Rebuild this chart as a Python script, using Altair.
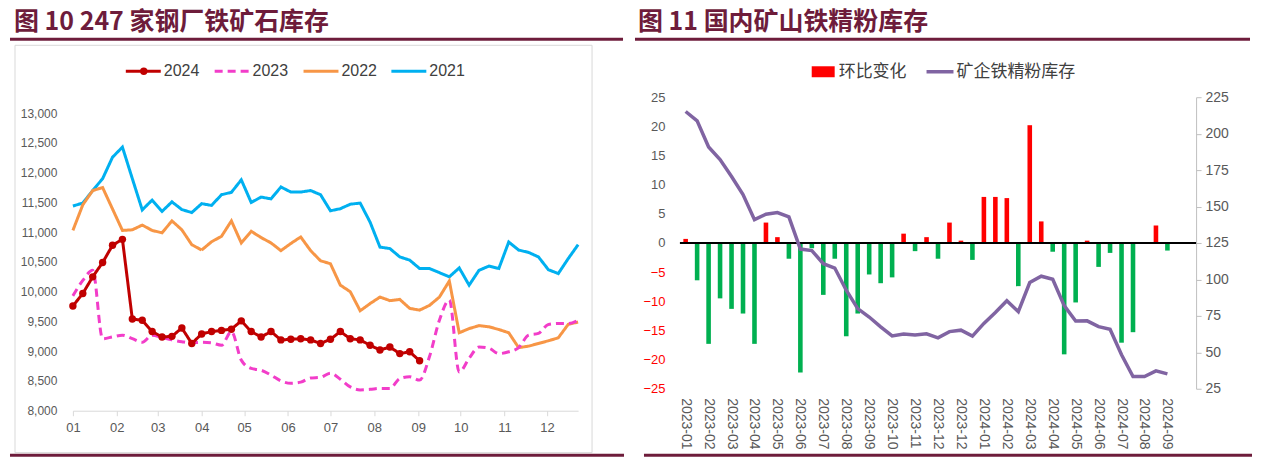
import altair as alt
import pandas as pd

# ---------------- Figure 10: iron ore stocks at 247 steel mills (weekly) ----------------
week_dates = pd.date_range("2024-01-05", periods=52, freq="7D")
series_order = ["2021", "2022", "2023", "2024"]          # drawing order
legend_order = ["2024", "2023", "2022", "2021"]
stock_2024 = [9760, 9970, 10250, 10490, 10780, 10880, 9540, 9520, 9330, 9240,
              9250, 9390, 9130, 9290, 9330, 9350, 9370, 9510, 9330, 9240,
              9330, 9190, 9200, 9210, 9190, 9130, 9200, 9330, 9210, 9190,
              9100, 9020, 9070, 8960, 8990, 8840]
stock_2023 = [9930, 10190, 10360, 9210, 9240, 9270, 9210, 9150, 9270, 9230,
              9190, 9160, 9140, 9150, 9140, 9100, 9330, 8850, 8710, 8680,
              8600, 8500, 8460, 8480, 8550, 8560, 8630, 8530, 8400, 8350,
              8360, 8375, 8375, 8540, 8570, 8515, 8910, 9520, 9860, 8650,
              8880, 9070, 9050, 8960, 8990, 9060, 9270, 9300, 9450, 9465,
              9465, 9520]
stock_2022 = [11030, 11460, 11700, 11750, 11390, 11030, 11040, 11120, 11030, 10990,
              11190, 11040, 10790, 10700, 10840, 10930, 11190, 10820, 11015, 10910,
              10820, 10690, 10810, 10920, 10690, 10520, 10470, 10110, 10000, 9680,
              9800, 9910, 9850, 9870, 9720, 9690, 9770, 9910, 10180, 9310,
              9380, 9430, 9410, 9365, 9310, 9060, 9085, 9130, 9175, 9225,
              9450, 9490]
stock_2021 = [11440, 11490, 11700, 11900, 12260, 12430, 11900, 11375, 11540, 11350,
              11510, 11380, 11330, 11480, 11450, 11630, 11670, 11880, 11500, 11590,
              11560, 11760, 11675, 11675, 11700, 11630, 11360, 11395, 11470, 11490,
              11170, 10750, 10725, 10585, 10530, 10390, 10390, 10320, 10250, 10400,
              10110, 10360, 10430, 10390, 10835, 10700, 10660, 10585, 10370, 10305,
              10555, 10790]
month_ticks = list(range(1, 13))
stock_ticks = list(range(8000, 13001, 500))

# ---------------- Figure 11: domestic mine iron concentrate inventory ----------------
periods = ["2023-01-15", "2023-01-31", "2023-02-15", "2023-02-28", "2023-03-15", "2023-03-31",
           "2023-04-15", "2023-04-30", "2023-05-15", "2023-05-31", "2023-06-15", "2023-06-30",
           "2023-07-15", "2023-07-31", "2023-08-15", "2023-08-31", "2023-09-15", "2023-09-30",
           "2023-10-15", "2023-10-31", "2023-11-15", "2023-11-30", "2023-12-08", "2023-12-15",
           "2023-12-22", "2023-12-29", "2024-01-15", "2024-01-31", "2024-02-15", "2024-02-29",
           "2024-03-15", "2024-03-31", "2024-04-15", "2024-04-30", "2024-05-15", "2024-05-31",
           "2024-06-15", "2024-06-30", "2024-07-15", "2024-07-31", "2024-08-15", "2024-08-31",
           "2024-09-15"]
change = [0.7, -6.4, -17.3, -9.5, -11.3, -12.1, -17.3, 3.5, 1.0, -2.7,
          -22.2, -0.9, -8.9, -2.7, -16.0, -12.1, -5.4, -6.9, -5.9, 1.6,
          -1.4, 1.0, -2.7, 3.5, 0.4, -2.9, 7.9, 7.9, 7.7, -7.4,
          20.2, 3.7, -1.5, -19.1, -10.2, 0.4, -4.1, -1.7, -17.1, -15.3,
          0.1, 3.0, -1.3]
inventory = [215.2, 208.8, 190.9, 182.3, 170.6, 158.2, 141.0, 144.7, 145.9, 142.9,
             120.8, 119.8, 110.8, 107.8, 92.6, 80.0, 74.2, 67.5, 61.2, 62.6,
             61.8, 62.7, 59.9, 64.2, 65.2, 61.1, 69.8, 77.3, 85.4, 77.9,
             97.9, 102.2, 100.1, 82.0, 71.5, 71.6, 67.6, 65.8, 48.3, 33.4,
             33.4, 37.3, 35.2]
change_ticks = list(range(-25, 26, 5))
inv_ticks = list(range(25, 226, 25))

title_left = "图 10 247 家钢厂铁矿石库存"
title_right = "图 11 国内矿山铁精粉库存"
legend_change = "环比变化"
legend_inv = "矿企铁精粉库存"

# ---------------- styles ----------------
MAROON = "#6E1C3B"
ARIAL = "'Liberation Sans', Arial, sans-serif"
CJK = "'Noto Sans CJK SC', 'Noto Sans', sans-serif"
LABEL = "#595959"
colors = {"2024": "#C00000", "2023": "#F23DC9", "2022": "#F79646", "2021": "#00B0F0"}
dashes = {"2024": [1, 0], "2023": [8, 5], "2022": [1, 0], "2021": [1, 0]}

one = pd.DataFrame({"k": [0]})


def text_at(txt, x, y, size, color, font, weight="normal"):
    return alt.Chart(one).mark_text(text=txt, align="left", baseline="middle", fontSize=size,
                                    font=font, fontWeight=weight, color=color).encode(
        x=alt.value(x), y=alt.value(y))


def hline(x1, x2, y, color, width, dash=None):
    kw = dict(color=color, strokeWidth=width)
    if dash is not None:
        kw["strokeDash"] = dash
    return alt.Chart(one).mark_rule(**kw).encode(x=alt.value(x1), x2=alt.value(x2), y=alt.value(y))


def box(x1, x2, y1, y2, fill="transparent", stroke=None, sw=0):
    kw = dict(fill=fill, strokeWidth=sw)
    if stroke is not None:
        kw["stroke"] = stroke
    return alt.Chart(one).mark_rect(**kw).encode(x=alt.value(x1), x2=alt.value(x2),
                                                 y=alt.value(y1), y2=alt.value(y2))


# ---------------- left panel ----------------
LW, LH = 506, 314
TOP_GAP = 16                      # empty pixels above the 13,000 gridline
y_top = 13000 + 5000 * TOP_GAP / (LH - TOP_GAP)

rows = []
for name, vals in [("2024", stock_2024), ("2023", stock_2023), ("2022", stock_2022), ("2021", stock_2021)]:
    for d, v in zip(week_dates, vals):
        rows.append({"series": name, "date": d, "stock": v})
df_left = pd.DataFrame(rows)

x_left = alt.X("date:T",
               scale=alt.Scale(domain=[alt.DateTime(year=2024, month=1, date=5),
                                       alt.DateTime(year=2024, month=12, date=27)]),
               axis=alt.Axis(values=[alt.DateTime(year=2024, month=m, date=5) for m in month_ticks],
                             format="%m", title=None, labelFont=ARIAL, labelFontSize=13,
                             labelColor=LABEL, domainColor="#D9D9D9", tickColor="#D9D9D9",
                             tickSize=5, labelPadding=6, labelFlush=False, grid=False))
y_left = alt.Y("stock:Q", scale=alt.Scale(domain=[8000, y_top], nice=False, zero=False),
               axis=alt.Axis(values=stock_ticks, format=",.0f", title=None, domain=False, ticks=False,
                             labelPadding=16, labelFont=ARIAL, labelFontSize=12,
                             labelColor=LABEL, grid=False))

left_layers = []
for name in series_order:
    base = alt.Chart(df_left).transform_filter(alt.datum.series == name)
    left_layers.append(base.mark_line(color=colors[name], strokeWidth=3, strokeDash=dashes[name],
                                      interpolate="monotone" if name == "2023" else "linear")
                       .encode(x=x_left, y=y_left))
left_layers.append(alt.Chart(df_left).transform_filter(alt.datum.series == "2024")
                   .mark_circle(size=55, color=colors["2024"], opacity=1).encode(x=x_left, y=y_left))

# decorations (pixel positions relative to plot origin)
left_decor = [
    box(-63, 557, -89, 360),                                   # panel bounds
    box(-58, 520, -52, 356, stroke="#D9D9D9", sw=1),           # frame
    text_at(title_left, -59, -75, 25, MAROON, CJK, "bold"),
    hline(-63, 551, -58, MAROON, 3),
    hline(-63, 552, 358.5, MAROON, 3),
]
leg_x = {"2024": 53, "2023": 142, "2022": 231, "2021": 319}
for name in legend_order:
    x0 = leg_x[name]
    left_decor.append(hline(x0, x0 + 35, -26, colors[name], 3, dashes[name]))
    left_decor.append(text_at(name, x0 + 38, -26, 16, "#404040", ARIAL))
left_decor.append(alt.Chart(one).mark_circle(size=55, color=colors["2024"], opacity=1)
                  .encode(x=alt.value(leg_x["2024"] + 18), y=alt.value(-26)))

left = alt.layer(*left_layers, *left_decor).properties(width=LW, height=LH)

# ---------------- right panel ----------------
RW, RH = 517, 292
df_right = pd.DataFrame({"period": periods, "change": change, "inventory": inventory})

x_right = alt.X("period:O",
                scale=alt.Scale(domain=periods, paddingInner=0, paddingOuter=1, align=0),
                axis=alt.Axis(values=periods[::2], labelExpr="slice(datum.value, 0, 7)",
                              labelAngle=90, ticks=False, domain=False, labelPadding=9,
                              labelFont=ARIAL, labelFontSize=14, labelColor=LABEL, title=None))
change_axis = alt.Axis(values=change_ticks, title=None, domain=False, ticks=False, labelPadding=15,
                       labelFont=ARIAL, labelFontSize=13, grid=False,
                       labelColor={"condition": {"test": "datum.value < 0", "value": "#FF0000"},
                                   "value": LABEL})
change_scale = alt.Scale(domain=[-25, 25], nice=False)

bars = alt.Chart(df_right).mark_bar(width=alt.RelativeBandSize(0.4)).encode(
    x=x_right,
    y=alt.Y("change:Q", scale=change_scale, axis=change_axis),
    color=alt.condition(alt.datum.change > 0, alt.value("#FF0000"), alt.value("#00B050")),
)
zero = alt.Chart(one).mark_rule(color="black", strokeWidth=2).encode(
    x=alt.value(0), x2=alt.value(RW), y=alt.Y(datum=0, scale=change_scale, axis=change_axis))

inv_line = alt.Chart(df_right).mark_line(color="#8064A2", strokeWidth=3.5).encode(
    x=x_right,
    y=alt.Y("inventory:Q", scale=alt.Scale(domain=[25, 225], nice=False, zero=False),
            axis=alt.Axis(orient="right", values=inv_ticks, title=None, domainColor="#BFBFBF",
                          tickColor="#BFBFBF", tickSize=5, labelPadding=4, labelFont=ARIAL,
                          labelFontSize=14, labelColor=LABEL, grid=False)),
)

right_decor = [
    box(-51, 573, -89, 360),                                   # panel bounds
    text_at(title_right, -42, -75, 25, MAROON, CJK, "bold"),
    hline(-45, 571, -58, MAROON, 3),
    hline(-36, 573, 358.5, MAROON, 3),
    box(132, 155, -31, -20, fill="#FF0000"),
    text_at(legend_change, 159, -25.5, 17, "#404040", CJK),
    hline(247, 274, -25.5, "#8064A2", 3.5),
    text_at(legend_inv, 277, -25.5, 17, "#404040", CJK),
]

right = alt.layer(alt.layer(bars, zero), inv_line, *right_decor).resolve_scale(
    y="independent").properties(width=RW, height=RH)

chart = alt.hconcat(left, right, spacing=0).properties(padding=0).configure_view(stroke=None)

chart.save("out.html", embed_options={"renderer": "svg", "actions": False})
